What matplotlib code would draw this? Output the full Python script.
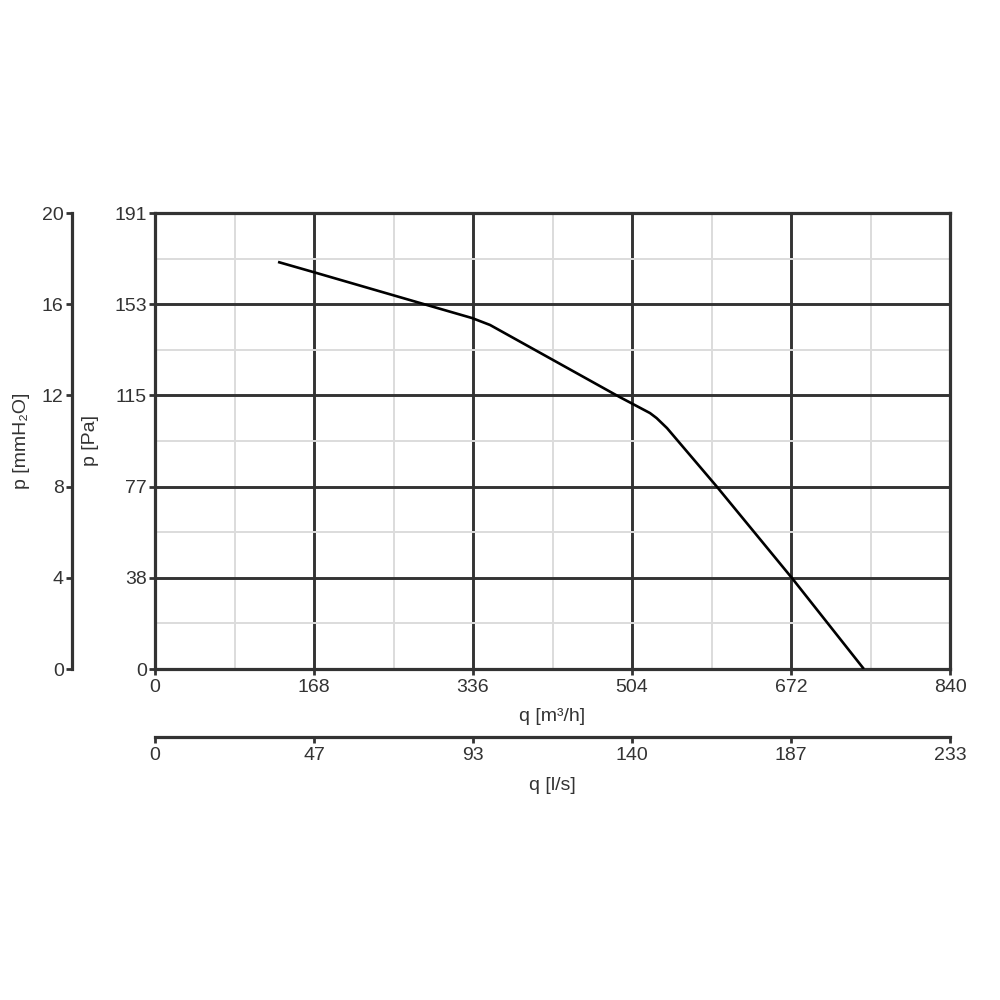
import numpy as np
from matplotlib import pyplot as plt

# fan curve
q_m3h = [130, 167, 287, 335, 354, 491, 503, 523, 530, 541, 594, 673, 749]
p_pa = [170.5, 166.3, 152.5, 147.0, 144.1, 113.9, 111.4, 107.2, 105.1, 100.9, 76.2, 38.1, 0]

q_ticks = [0, 168, 336, 504, 672, 840]
ls_labels = ['0', '47', '93', '140', '187', '233']
pa_labels = ['0', '38', '77', '115', '153', '191']
mm_labels = ['0', '4', '8', '12', '16', '20']
q_max = 840
pa_max = 191

dark = '#333333'
light = '#dcdcdc'
fs = 14
plt.rcParams['font.family'] = ['Liberation Sans', 'DejaVu Sans']


def make_figure():
    fig = plt.figure(figsize=(10, 10), dpi=100)
    ax = fig.add_axes([0.155, 0.331, 0.795, 0.456])

    pa_ticks = np.linspace(0, pa_max, len(pa_labels))
    ax.set_xlim(0, q_max)
    ax.set_ylim(0, pa_max)
    ax.set_xticks(q_ticks)
    ax.set_xticks([(a + b) / 2 for a, b in zip(q_ticks[:-1], q_ticks[1:])], minor=True)
    ax.set_yticks(pa_ticks, labels=pa_labels)
    ax.set_yticks((pa_ticks[:-1] + pa_ticks[1:]) / 2, minor=True)

    ax.grid(which='minor', color=light, lw=1.4, zorder=0)
    ax.grid(which='major', color=dark, lw=2.1, zorder=1)
    ax.tick_params(which='minor', length=0)
    ax.tick_params(which='major', length=4, width=2, color=dark, labelsize=fs,
                   labelcolor=dark, pad=2)
    ax.tick_params(axis='x', which='major', pad=3)
    for s in ax.spines.values():
        s.set_color(dark)
        s.set_linewidth(2.3)

    ax.plot(q_m3h, p_pa, color='black', lw=1.9, zorder=3, solid_capstyle='butt')

    ax.set_xlabel('q [m³/h]', fontsize=fs, color=dark)
    ax.xaxis.set_label_coords(0.5, -0.085)
    ax.set_ylabel('p [Pa]', fontsize=fs, color=dark)
    ax.yaxis.set_label_coords(-0.071, 0.5)

    # second flow axis, l/s
    sec_x = ax.secondary_xaxis(-0.149)
    sec_x.set_xticks(q_ticks, labels=ls_labels)
    sec_x.spines['bottom'].set_color(dark)
    sec_x.spines['bottom'].set_linewidth(2.3)
    sec_x.tick_params(length=4, width=2, color=dark, labelsize=fs, labelcolor=dark, pad=3)
    fig.text(0.5525, 0.215, 'q [l/s]', ha='center', va='center', fontsize=fs, color=dark)

    # second pressure axis, mmH2O
    sec_y = ax.secondary_yaxis(-0.1044)
    sec_y.set_yticks(pa_ticks, labels=mm_labels)
    sec_y.spines['left'].set_color(dark)
    sec_y.spines['left'].set_linewidth(2.3)
    sec_y.tick_params(length=4, width=2, color=dark, labelsize=fs, labelcolor=dark, pad=2)
    fig.text(0.022, 0.559, 'p [mmH₂O]', rotation=90, ha='center', va='center',
             fontsize=fs, color=dark)

    plt.savefig('out.png', dpi=100)


if __name__ == '__main__':
    make_figure()
